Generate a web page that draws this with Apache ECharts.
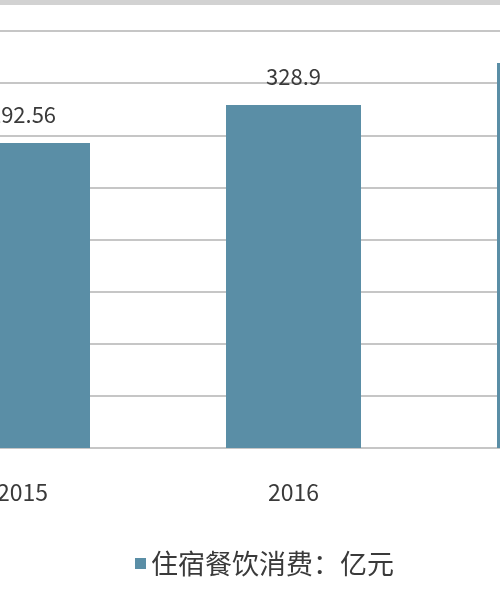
<!DOCTYPE html>
<html>
<head>
<meta charset="utf-8">
<script src="https://cdn.jsdelivr.net/npm/echarts@6/dist/echarts.min.js"></script>
<style>
html,body{margin:0;padding:0;background:#fff;}
#c{width:500px;height:600px;}
</style>
</head>
<body>
<div id="c"></div>
<script>
const categories = ['2015', '2016', '2017'];
const values = [292.56, 328.9, 369.4];
const seriesName = '住宿餐饮消费：亿元';

const chart = echarts.init(document.getElementById('c'), null, {renderer: 'canvas'});
const font = '"Noto Sans CJK SC", "Noto Sans", sans-serif';
chart.setOption({
  animation: false,
  backgroundColor: '#ffffff',
  textStyle: {fontFamily: font},
  graphic: [{
    type: 'rect',
    left: 0, top: 0,
    shape: {x: 0, y: 0, width: 500, height: 5},
    style: {fill: '#d2d2d2'},
    silent: true
  }],
  legend: {
    data: [seriesName],
    left: 130,
    top: 545,
    icon: 'rect',
    itemWidth: 11,
    itemHeight: 11,
    itemGap: 10,
    textStyle: {fontSize: 27, color: '#3a3a3a', fontFamily: font}
  },
  grid: {
    left: -113,
    width: 813,
    top: 31,
    bottom: 152,
    containLabel: false,
    outerBoundsMode: 'none'
  },
  xAxis: {
    type: 'category',
    data: categories,
    axisLine: {show: true, lineStyle: {color: '#c6c6c6', width: 2}},
    axisTick: {show: false},
    axisLabel: {fontSize: 23, color: '#3a3a3a', margin: 33, fontFamily: font}
  },
  yAxis: {
    type: 'value',
    min: 0,
    max: 400,
    interval: 50,
    axisLine: {show: false},
    axisTick: {show: false},
    axisLabel: {show: false},
    splitLine: {show: true, lineStyle: {color: '#c6c6c6', width: 2}}
  },
  series: [{
    name: seriesName,
    type: 'bar',
    data: values,
    barWidth: 135,
    itemStyle: {color: '#5a8ea6'},
    label: {
      show: true,
      position: 'top',
      distance: 17,
      fontSize: 22,
      color: '#3a3a3a',
      fontFamily: font
    }
  }]
});
</script>
</body>
</html>
